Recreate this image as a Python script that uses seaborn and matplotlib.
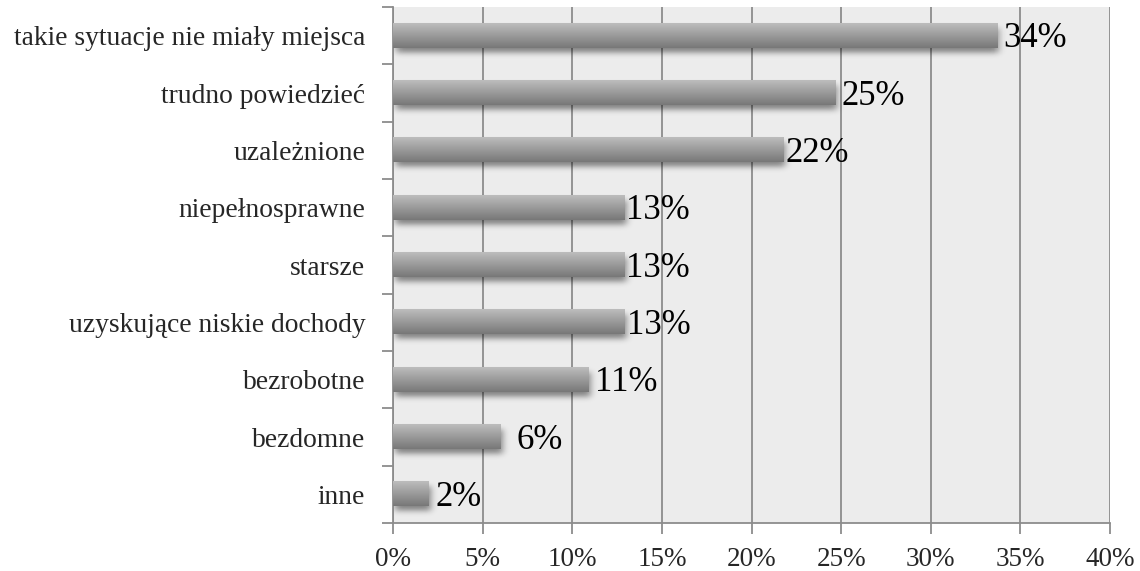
import math
import numpy as np
import pandas as pd
import seaborn as sns
import matplotlib
matplotlib.use("Agg")
import matplotlib.pyplot as plt

categories = [
    "takie sytuacje nie miały miejsca",
    "trudno powiedzieć",
    "uzależnione",
    "niepełnosprawne",
    "starsze",
    "uzyskujące niskie dochody",
    "bezrobotne",
    "bezdomne",
    "inne",
]
values = [33.7, 24.7, 21.8, 12.9, 12.9, 12.9, 10.9, 6.0, 2.0]
value_labels = ["34%", "25%", "22%", "13%", "13%", "13%", "11%", "6%", "2%"]
label_pads = [6, 6, 2, 2, 2, 3, 7, 16, 7]
x_ticks = [0, 5, 10, 15, 20, 25, 30, 35, 40]
x_tick_labels = ["0%", "5%", "10%", "15%", "20%", "25%", "30%", "35%", "40%"]

sns.set_theme(style="white")
plt.rcParams["font.family"] = ["Liberation Serif", "DejaVu Serif"]

df = pd.DataFrame({"cat": categories, "val": values})

fig = plt.figure(figsize=(11.4, 5.71), dpi=100)
ax = fig.add_axes([393 / 1140, 1 - 523 / 571, (1110 - 393) / 1140, (523 - 7) / 571])
ax.set_facecolor("#ececec")

sns.barplot(data=df, x="val", y="cat", orient="h", width=0.42,
            color="#999999", ax=ax, zorder=3)

ax.set_xlim(0, 40)
ax.set_ylim(8.5, -0.5)

# gradient fill and soft shadow for each bar
grad = np.linspace(0, 1, 64)
top = np.array([0.74, 0.74, 0.74])
bot = np.array([0.47, 0.47, 0.47])
cols = top[None, :] * (1 - grad[:, None]) + bot[None, :] * grad[:, None]
grad_img = np.repeat(cols[:, None, :], 2, axis=1)

verf = np.vectorize(math.erf)
px_x = 40 / (1110 - 393)       # data units per pixel (x)
px_y = 9 / (523 - 7)           # data units per pixel (y)
for p in list(ax.patches):
    x0, y0, w, h = p.get_x(), p.get_y(), p.get_width(), p.get_height()
    p.set_visible(False)
    ax.imshow(grad_img, extent=(x0, x0 + w, y0 + h, y0), aspect="auto",
              origin="upper", zorder=3, interpolation="bilinear")
    # shadow
    sx = 5 * px_x
    sy = 4 * px_y
    off_x = 2 * px_x
    off_y = 5 * px_y
    ex0, ex1 = x0 - 4 * sx, x0 + w + 4 * sx
    ey0, ey1 = y0 - 4 * sy, y0 + h + 4 * sy
    xs = np.linspace(ex0, ex1, 200)
    ys = np.linspace(ey0, ey1, 60)
    fx = 0.5 * (verf((xs - x0 - off_x) / sx) - verf((xs - x0 - w - off_x) / sx))
    fy = 0.5 * (verf((ys - y0 - off_y) / sy) - verf((ys - y0 - h - off_y) / sy))
    alpha = 0.45 * fy[:, None] * fx[None, :]
    shadow = np.zeros((len(ys), len(xs), 4))
    shadow[..., 3] = alpha
    ax.imshow(shadow, extent=(ex0, ex1, ey1, ey0), aspect="auto",
              origin="upper", zorder=2.5, interpolation="bilinear")

ax.set_xlim(0, 40)
ax.set_ylim(8.5, -0.5)

# value labels
for i, (v, lab, pad) in enumerate(zip(values, value_labels, label_pads)):
    ax.annotate(lab, xy=(v, i), xytext=(pad, -3), textcoords="offset pixels",
                va="center", ha="left", fontsize=25, color="#000000", zorder=5)

# grid and axes
ax.set_xticks(x_ticks)
ax.set_xticklabels(x_tick_labels, fontsize=19.5)
ax.xaxis.grid(True, color="#8c8c8c", linewidth=1.3, zorder=1)
ax.set_axisbelow(True)
ax.tick_params(axis="x", direction="out", length=8, width=1.3, color="#8c8c8c",
               pad=9, bottom=True)
ax.set_yticks(range(len(categories)))
ax.set_yticklabels(categories, fontsize=19.8)
ax.set_yticks(np.arange(-0.5, len(categories), 1), minor=True)
ax.tick_params(axis="y", which="major", length=0, pad=20, left=True)
ax.tick_params(axis="y", which="minor", direction="out", length=8, width=1.3,
               color="#8c8c8c", left=True)
ax.set_xlabel("")
ax.set_ylabel("")
for s in ["top", "right"]:
    ax.spines[s].set_visible(False)
for s in ["left", "bottom"]:
    ax.spines[s].set_color("#8c8c8c")
    ax.spines[s].set_linewidth(1.3)

fig.savefig("out.png", dpi=100)
